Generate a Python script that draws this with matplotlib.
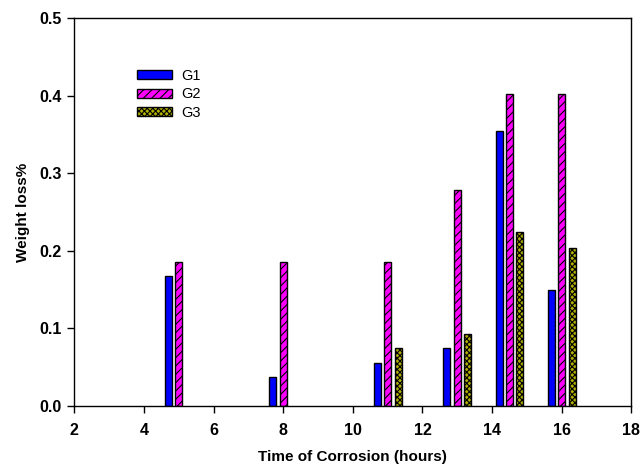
import numpy as np
import matplotlib
matplotlib.use("Agg")
import matplotlib.pyplot as plt

plt.rcParams["font.family"] = ["Liberation Sans", "DejaVu Sans"]
plt.rcParams["hatch.linewidth"] = 0.8

# corrosion times (hours) and weight loss for each group
times = [5, 8, 11, 13, 14.5, 16]
g1 = [0.168, 0.037, 0.056, 0.075, 0.355, 0.149]
g2 = [0.185, 0.185, 0.185, 0.278, 0.402, 0.402]
g3 = [0.0, 0.0, 0.075, 0.093, 0.224, 0.204]
labels = ["G1", "G2", "G3"]

fig = plt.figure(figsize=(6.44, 4.67), dpi=100)
ax = fig.add_axes([0.1154, 0.1306, 0.8649, 0.8309])

x = np.array(times)
w = 0.2
ax.bar(x - 0.3, g1, w, color="#0000ff", edgecolor="black", linewidth=1, label=labels[0])
ax.bar(x, g2, w, color="#ff00ff", edgecolor="black", linewidth=1, hatch="////", label=labels[1])
# no G3 sample at the first two times
m = np.array(g3) > 0
ax.bar(x[m] + 0.3, np.array(g3)[m], w, color="#b0b000", edgecolor="black", linewidth=1,
       hatch="xxxxxx", label=labels[2])

ax.set_xlim(2, 18)
ax.set_ylim(0, 0.5)
ax.set_xticks(range(2, 19, 2))
ax.set_yticks(np.arange(0, 0.51, 0.1))
ax.set_yticklabels([f"{v:.1f}" for v in np.arange(0, 0.51, 0.1)])
ax.tick_params(direction="out", length=5, width=1, labelsize=11.5)
ax.tick_params(axis="x", pad=7)
ax.tick_params(axis="y", pad=4)
for lab in ax.get_xticklabels() + ax.get_yticklabels():
    lab.set_fontweight("bold")
for s in ax.spines.values():
    s.set_linewidth(1)

ax.set_xlabel("Time of Corrosion (hours)", fontsize=11, fontweight="bold", labelpad=9)
ax.set_ylabel("Weight loss%", fontsize=11, fontweight="bold", labelpad=7)

ax.legend(loc="upper left", bbox_to_anchor=(0.202, 0.868), bbox_transform=fig.transFigure,
          frameon=False, fontsize=10.5, handlelength=2.4, handleheight=0.6,
          labelspacing=0.3, handletextpad=0.6, borderpad=0)

fig.savefig("out.png", dpi=100)
